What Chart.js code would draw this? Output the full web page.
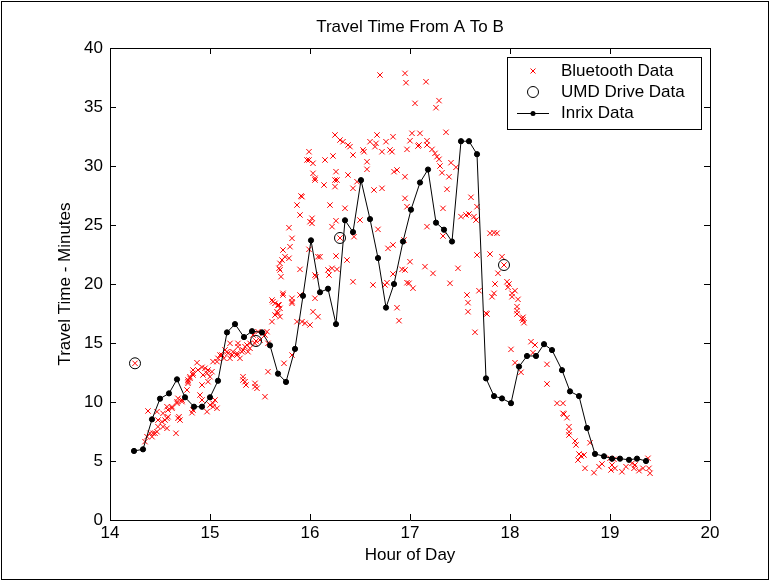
<!DOCTYPE html>
<html lang="en">

<head>
    <meta charset="UTF-8">
    <meta name="viewport" content="width=device-width, initial-scale=1.0">
    <title>Travel Time From A To B</title>
    <script src="https://cdn.jsdelivr.net/npm/chart.js@4.4.1/dist/chart.umd.min.js"></script>
    <style>
        html, body { margin: 0; padding: 0; background: #fff; }
        canvas { display: block; }
    </style>
</head>

<body>
    <canvas id="chart" width="770" height="581"></canvas>

    <script>
        const FONT = "'Liberation Sans', Arial, Helvetica, sans-serif"

        // tick values on both axes
        const xTicks = [14, 15, 16, 17, 18, 19, 20]
        const yTicks = [0, 5, 10, 15, 20, 25, 30, 35, 40]

        // Inrix: 5 minute samples (hour of day, minutes)
        const inrixHour = [14.24, 14.33, 14.42, 14.50, 14.59, 14.67, 14.75, 14.84, 14.92, 15.00, 15.08,
            15.17, 15.25, 15.34, 15.42, 15.52, 15.60, 15.68, 15.76, 15.85, 15.93, 16.01,
            16.10, 16.18, 16.26, 16.35, 16.43, 16.51, 16.60, 16.68, 16.76, 16.84, 16.93, 17.01,
            17.10, 17.18, 17.26, 17.34, 17.42, 17.51, 17.59, 17.67, 17.76, 17.84, 17.92, 18.01,
            18.09, 18.17, 18.26, 18.34, 18.42, 18.52, 18.60, 18.69, 18.77, 18.85, 18.94, 19.02,
            19.10, 19.19, 19.27, 19.36]
        const inrixMinutes = [5.85, 5.99, 8.53, 10.28, 10.73, 11.92, 10.40, 9.60, 9.60, 10.40, 11.80,
            15.90, 16.60, 15.50, 16.00, 15.90, 14.80, 12.40, 11.70, 14.50, 19.00, 23.70,
            19.30, 19.60, 16.60, 25.40, 24.40, 28.80, 25.50, 22.20, 18.00, 20.00, 23.60, 26.30,
            28.60, 29.70, 25.20, 24.60, 23.60, 32.10, 32.10, 31.00, 12.00, 10.50, 10.30, 9.90,
            13.00, 13.90, 13.90, 14.90, 14.40, 12.70, 10.90, 10.50, 7.80, 5.60, 5.40, 5.20,
            5.20, 5.10, 5.20, 5.00]

        // UMD drive runs
        const umdHour = [14.25, 15.46, 16.30, 17.94]
        const umdMinutes = [13.28, 15.17, 23.90, 21.61]

        // Bluetooth matches [hour, minutes]
        const bluetooth = [
            [14.25, 13.28], [14.38, 9.24], [14.35, 6.64], [14.37, 7.06], [14.40, 7.35], [14.43, 7.35], [14.47, 7.48],
            [14.48, 8.47], [14.47, 9.18], [14.53, 9.04], [14.57, 9.60], [14.55, 8.47], [14.58, 8.75], [14.53, 7.91],
            [14.57, 7.77], [14.62, 9.47], [14.66, 7.35], [14.68, 8.62], [14.70, 8.47], [14.67, 10.03], [14.68, 10.31],
            [14.72, 10.03], [14.78, 11.86], [14.80, 12.01], [14.78, 11.58], [14.83, 12.29], [14.83, 12.71], [14.87, 13.33],
            [14.92, 12.94], [14.95, 12.86], [14.98, 12.71], [14.93, 12.29], [15.00, 12.14], [14.90, 10.59], [14.82, 9.09],
            [14.97, 9.18], [15.00, 9.75], [15.05, 10.17], [15.03, 9.60], [15.07, 13.42], [15.10, 13.98], [15.14, 13.70],
            [15.17, 14.26], [15.20, 14.97], [15.22, 13.98], [15.27, 14.13], [15.28, 14.97], [15.32, 14.26], [15.35, 14.69],
            [15.38, 14.26], [15.40, 14.97], [15.43, 15.68], [15.48, 15.96], [15.53, 15.82], [15.57, 15.96], [15.33, 12.14],
            [15.35, 11.72], [15.45, 11.58], [15.47, 11.16], [15.55, 10.45], [15.58, 12.57], [15.62, 16.81], [15.65, 17.37],
            [15.68, 17.52], [15.63, 18.50], [15.62, 18.64], [15.68, 18.22], [15.73, 19.07], [15.82, 18.79], [15.82, 18.50],
            [15.74, 13.28], [15.82, 13.98], [15.87, 16.81], [15.92, 16.81], [14.45, 7.35], [14.42, 7.06], [14.48, 7.91],
            [14.52, 8.33], [14.58, 9.32], [14.77, 11.02], [14.83, 12.43], [15.02, 12.57], [14.98, 11.72], [14.92, 11.44],
            [14.92, 10.17], [15.03, 13.42], [15.15, 14.41], [15.20, 13.70], [15.30, 13.70], [15.33, 14.41], [15.40, 14.55],
            [15.50, 15.25], [14.57, 8.62], [14.62, 9.60], [14.69, 8.75], [14.67, 9.89], [14.72, 10.17], [14.78, 11.72],
            [14.80, 12.14], [14.88, 12.71], [14.97, 12.43], [14.83, 9.32], [15.03, 9.89], [15.07, 9.47], [15.08, 13.70],
            [15.12, 13.98], [15.18, 14.13], [15.23, 14.26], [15.27, 13.98], [15.28, 14.69], [15.37, 14.83], [15.45, 14.97],
            [15.55, 15.68], [15.58, 14.97], [15.33, 11.86], [15.36, 11.44], [15.45, 11.30], [15.65, 18.36], [15.69, 18.22],
            [15.73, 19.21], [15.67, 17.65], [15.70, 17.23], [15.82, 18.36], [15.90, 19.07], [15.69, 21.33], [15.70, 21.75],
            [15.71, 20.62], [15.72, 22.03], [15.75, 22.31], [15.79, 22.18], [15.73, 22.88], [15.80, 23.16], [15.82, 23.87],
            [15.79, 24.77], [15.90, 25.85], [15.87, 26.69], [15.91, 27.46], [15.99, 30.51], [15.99, 31.21], [16.03, 30.23],
            [16.03, 29.38], [16.05, 28.96], [16.02, 25.57], [16.00, 25.28], [15.99, 22.94], [16.08, 22.31], [16.06, 20.62],
            [15.90, 21.24], [15.95, 16.67], [16.00, 16.53], [16.03, 17.65], [16.08, 17.23], [16.05, 18.79], [16.14, 28.39],
            [16.15, 30.51], [16.23, 30.85], [16.25, 32.63], [16.30, 32.20], [16.33, 32.06], [16.38, 31.78], [16.43, 30.93],
            [16.26, 29.52], [16.27, 28.81], [16.25, 28.25], [16.20, 26.69], [16.35, 26.42], [16.26, 25.36], [16.22, 24.86],
            [16.38, 29.24], [16.47, 28.67], [16.43, 28.11], [16.22, 21.33], [16.19, 20.76], [16.27, 21.24], [16.26, 22.37],
            [16.37, 22.03], [16.43, 20.19], [16.44, 24.01], [16.50, 25.42], [16.54, 31.21], [16.57, 30.36], [16.57, 29.72],
            [16.60, 32.06], [16.67, 32.63], [16.65, 31.64], [16.72, 31.21], [16.76, 32.06], [16.83, 32.48], [16.82, 31.21],
            [16.64, 27.97], [16.72, 28.11], [16.68, 24.63], [16.78, 23.02], [16.83, 23.31], [16.63, 19.92], [16.75, 19.92],
            [16.83, 20.85], [16.87, 17.99], [16.89, 16.89], [16.84, 29.52], [16.87, 29.66], [16.95, 29.09], [16.95, 27.26],
            [16.97, 26.55], [16.94, 23.73], [17.00, 21.89], [16.92, 21.24], [16.95, 21.19], [16.99, 20.06], [17.03, 19.64],
            [17.02, 32.77], [17.10, 32.77], [17.09, 31.78], [17.17, 31.78], [17.15, 21.47], [17.17, 24.86], [15.92, 27.40],
            [16.10, 22.31], [16.53, 31.36], [16.40, 31.64], [16.66, 31.92], [16.97, 31.41], [17.00, 32.14], [17.17, 32.14],
            [17.22, 31.41], [17.25, 31.07], [17.23, 20.90], [15.97, 30.51], [16.05, 28.81], [16.25, 28.81], [16.02, 25.14],
            [15.70, 21.19], [16.05, 20.76], [16.18, 21.19], [16.77, 20.11], [16.97, 20.11], [15.70, 17.94], [16.70, 37.71],
            [16.95, 37.85], [16.96, 37.06], [17.16, 37.14], [17.05, 35.31], [17.29, 35.54], [17.26, 34.94], [17.36, 32.86],
            [17.27, 30.79], [17.29, 30.57], [17.30, 30.00], [17.32, 29.43], [17.39, 29.09], [17.41, 30.28], [17.46, 29.89],
            [17.37, 28.03], [17.33, 26.41], [17.61, 27.35], [17.67, 26.55], [17.51, 25.71], [17.56, 25.85], [17.59, 25.93],
            [17.64, 25.71], [17.66, 25.42], [17.33, 24.07], [17.48, 21.33], [17.67, 22.46], [17.80, 22.54], [17.80, 24.30],
            [17.84, 24.35], [17.87, 24.30], [17.92, 22.31], [17.88, 20.91], [17.85, 20.00], [17.84, 19.21], [17.82, 18.92],
            [17.97, 20.19], [17.99, 20.00], [18.02, 19.21], [18.05, 19.43], [18.08, 18.70], [18.07, 18.08], [18.07, 17.74],
            [18.13, 17.18], [17.69, 19.43], [17.57, 19.07], [17.58, 18.42], [17.58, 17.65], [17.40, 20.06], [17.77, 17.46],
            [16.80, 31.36], [17.08, 31.69], [17.94, 21.61], [17.98, 19.72], [18.02, 18.92], [18.07, 17.46], [18.14, 16.72],
            [17.76, 17.52], [17.65, 15.91], [18.01, 14.46], [18.05, 13.33], [18.11, 12.52], [18.21, 15.11], [18.25, 14.83],
            [18.23, 14.18], [18.37, 13.19], [18.37, 11.53], [18.47, 9.89], [18.53, 9.89], [18.54, 8.98], [18.57, 8.67],
            [18.59, 7.91], [18.59, 7.48], [18.59, 7.20], [18.65, 6.69], [18.66, 6.36], [18.69, 5.59], [18.68, 5.08],
            [18.71, 5.42], [18.74, 5.51], [18.75, 4.38], [18.80, 6.55], [18.84, 4.01], [18.89, 4.52], [18.92, 4.75],
            [19.00, 5.23], [19.02, 4.66], [19.05, 4.38], [19.01, 4.24], [19.12, 4.09], [19.16, 4.52], [19.22, 4.80],
            [19.24, 4.38], [19.25, 4.66], [19.29, 4.18], [19.33, 4.38], [19.38, 5.23], [19.39, 4.38], [19.40, 3.96],
            [19.04, 5.14], [18.13, 16.95], [18.53, 9.04], [18.12, 17.09], [15.46, 15.17], [16.30, 23.90]
        ]

        const legendLabels = ['Bluetooth Data', 'UMD Drive Data', 'Inrix Data']

        // matlab style box: full frame with inward ticks on all four sides
        const axesBox = {
            id: 'axesBox',
            afterDatasetsDraw(chart) {
                const { ctx, chartArea: a, scales: { x, y } } = chart
                const len = 6
                ctx.save()
                ctx.strokeStyle = '#000'
                ctx.lineWidth = 1
                ctx.beginPath()
                ctx.rect(a.left + 0.5, a.top + 0.5, a.right - a.left, a.bottom - a.top)
                xTicks.forEach(v => {
                    const px = Math.round(x.getPixelForValue(v)) + 0.5
                    ctx.moveTo(px, a.bottom); ctx.lineTo(px, a.bottom - len)
                    ctx.moveTo(px, a.top); ctx.lineTo(px, a.top + len)
                })
                yTicks.forEach(v => {
                    const py = Math.round(y.getPixelForValue(v)) + 0.5
                    ctx.moveTo(a.left, py); ctx.lineTo(a.left + len, py)
                    ctx.moveTo(a.right, py); ctx.lineTo(a.right - len, py)
                })
                ctx.stroke()
                // figure border
                ctx.strokeRect(1.5, 1.5, chart.width - 3, chart.height - 3)
                ctx.restore()
            }
        }

        // legend box in the upper right corner of the axes
        const boxLegend = {
            id: 'boxLegend',
            afterDraw(chart) {
                const ctx = chart.ctx
                const left = 507, top = 57, right = 701, bottom = 129
                const rows = [71, 92, 113]
                const mx = 533
                ctx.save()
                ctx.fillStyle = '#fff'
                ctx.fillRect(left, top, right - left, bottom - top)
                ctx.strokeStyle = '#000'
                ctx.lineWidth = 1
                ctx.strokeRect(left + 0.5, top + 0.5, right - left, bottom - top)

                // bluetooth x
                ctx.strokeStyle = '#ff0000'
                ctx.beginPath()
                ctx.moveTo(mx - 2.5, rows[0] - 2.5); ctx.lineTo(mx + 2.5, rows[0] + 2.5)
                ctx.moveTo(mx + 2.5, rows[0] - 2.5); ctx.lineTo(mx - 2.5, rows[0] + 2.5)
                ctx.stroke()

                // umd circle
                ctx.strokeStyle = '#000'
                ctx.beginPath()
                ctx.arc(mx, rows[1], 5.5, 0, Math.PI * 2)
                ctx.stroke()

                // inrix line + dot
                ctx.beginPath()
                ctx.moveTo(517, rows[2] + 0.5); ctx.lineTo(549, rows[2] + 0.5)
                ctx.stroke()
                ctx.fillStyle = '#000'
                ctx.beginPath()
                ctx.arc(mx, rows[2] + 0.5, 2.5, 0, Math.PI * 2)
                ctx.fill()

                ctx.font = '17px ' + FONT
                ctx.textBaseline = 'middle'
                ctx.textAlign = 'left'
                legendLabels.forEach((t, i) => ctx.fillText(t, 561, rows[i]))
                ctx.restore()
            }
        }

        const ctx = document.getElementById('chart').getContext('2d')
        const myChart = new Chart(ctx, {
            type: 'scatter',
            data: {
                datasets: [{
                    label: legendLabels[0],
                    data: bluetooth.map(p => ({ x: p[0], y: p[1] })),
                    pointStyle: 'crossRot',
                    pointRadius: 3.8,
                    borderColor: '#ff0000',
                    borderWidth: 1,
                    order: 3
                }, {
                    label: legendLabels[1],
                    data: umdHour.map((h, i) => ({ x: h, y: umdMinutes[i] })),
                    pointStyle: 'circle',
                    pointRadius: 5.5,
                    backgroundColor: 'rgba(0,0,0,0)',
                    borderColor: '#000',
                    borderWidth: 1,
                    order: 2
                }, {
                    label: legendLabels[2],
                    data: inrixHour.map((h, i) => ({ x: h, y: inrixMinutes[i] })),
                    showLine: true,
                    tension: 0,
                    borderColor: '#000',
                    borderWidth: 1,
                    pointRadius: 2.6,
                    pointBackgroundColor: '#000',
                    pointBorderColor: '#000',
                    order: 1
                }]
            },
            options: {
                responsive: false,
                animation: false,
                devicePixelRatio: 1,
                layout: { padding: { left: 0, right: 60, top: 0, bottom: 0 } },
                plugins: {
                    legend: { display: false },
                    tooltip: { enabled: false },
                    title: {
                        display: true,
                        text: 'Travel Time From A To B',
                        fullSize: false,
                        color: '#000',
                        font: { family: FONT, size: 17, weight: 'normal' },
                        padding: { top: 17, bottom: 10.6 }
                    }
                },
                scales: {
                    x: {
                        type: 'linear',
                        min: 14,
                        max: 20,
                        grid: { display: false, drawTicks: false },
                        border: { display: false },
                        ticks: {
                            stepSize: 1,
                            padding: 3,
                            color: '#000',
                            font: { family: FONT, size: 17 }
                        },
                        title: {
                            display: true,
                            text: 'Hour of Day',
                            color: '#000',
                            font: { family: FONT, size: 17 },
                            padding: { top: 0, bottom: 15 }
                        },
                        afterFit: s => { s.height = 61 }
                    },
                    y: {
                        min: 0,
                        max: 40,
                        grid: { display: false, drawTicks: false },
                        border: { display: false },
                        ticks: {
                            stepSize: 5,
                            padding: 7,
                            color: '#000',
                            font: { family: FONT, size: 17 }
                        },
                        title: {
                            display: true,
                            text: 'Travel Time - Minutes',
                            color: '#000',
                            font: { family: FONT, size: 17 },
                            padding: { top: 55, bottom: 0 }
                        },
                        afterFit: s => { s.width = 110 }
                    }
                }
            },
            plugins: [axesBox, boxLegend]
        })
    </script>
</body>

</html>
